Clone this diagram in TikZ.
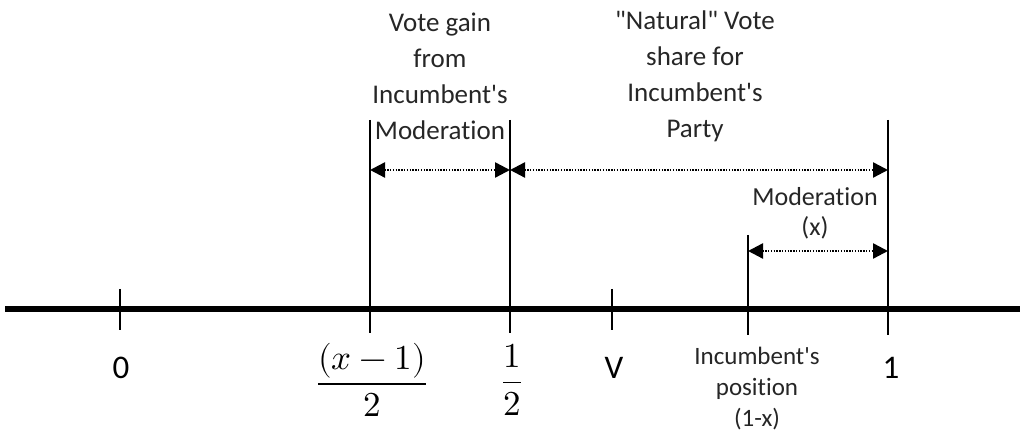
\documentclass[tikz,border=0pt]{standalone}
\usepackage{amsmath}
\usepackage{unicode-math}
\setmainfont{Carlito}[Ligatures=NoCommon]
\setmathfont{Latin Modern Math}
\usetikzlibrary{arrows.meta, positioning}
\tikzset{
  axis/.style={draw=black, line width=5.5pt},
  mark line/.style={draw=black, line width=1.8pt},
  span/.style={{Triangle[length=15pt,width=15pt]}-{Triangle[length=15pt,width=15pt]},
               draw=black, line width=2.4pt, dash pattern=on 1.4pt off 1.4pt},
  num/.style={font=\fontsize{33}{36}\selectfont, inner sep=0pt},
  note/.style={align=center, inner sep=0pt, text=black!85},
}

\begin{document}
\begin{tikzpicture}[
  x=1pt, y=1pt,
  topnote/.style={note, font=\fontsize{27}{36}\selectfont},
  midnote/.style={note, font=\fontsize{26}{30}\selectfont},
  lownote/.style={note, font=\fontsize{25}{31}\selectfont},
  frac/.style={font=\fontsize{35}{40}\selectfont, inner sep=0pt},
]
  \useasboundingbox (0,0) rectangle (1020,446);

  % number line
  \coordinate (axL) at (5,137);
  \coordinate (axR) at (1020,137);
  \draw[axis] (axL) -- (axR);

  % ticks and markers
  \coordinate (zeroT) at (120,157); \coordinate (zeroB) at (120,116);
  \coordinate (lowT)  at (370,326); \coordinate (lowB)  at (370,113);
  \coordinate (halfT) at (510,326); \coordinate (halfB) at (510,113);
  \coordinate (vT)    at (612,157); \coordinate (vB)    at (612,116);
  \coordinate (incT)  at (748,211); \coordinate (incB)  at (748,111);
  \coordinate (oneT)  at (888,326); \coordinate (oneB)  at (888,111);
  \draw[mark line] (zeroT) -- (zeroB);
  \draw[mark line] (lowT) -- (lowB);
  \draw[mark line] (halfT) -- (halfB);
  \draw[mark line] (vT) -- (vB);
  \draw[mark line] (incT) -- (incB);
  \draw[mark line] (oneT) -- (oneB);

  % spans
  \coordinate (gainL) at (370,276); \coordinate (gainR) at (510,276);
  \coordinate (natR)  at (888,276);
  \coordinate (modL)  at (748,195); \coordinate (modR)  at (888,195);
  \draw[span] (gainL) -- (gainR);
  \draw[span] (gainR) -- (natR);
  \draw[span] (modL) -- (modR);

  % labels on the line
  \node[num] (lzero) at (121,78) {0};
  \node[frac] (llow) at (372,66) {$\dfrac{(x-1)}{2}$};
  \node[frac] (lhalf) at (512,66) {$\dfrac{1}{2}$};
  \node[num] (lv)    at (614,78) {V};
  \node[num] (lone)  at (891,78) {1};
  \node[lownote] (linc) at (757,57) {Incumbent\textquotesingle s\\position\\(1-x)};

  % explanations
  \node[topnote] (gain) at (440,370) {Vote gain\\from\\Incumbent\textquotesingle s\\Moderation};
  \node[topnote] (nat)  at (695,370) {\textquotedbl Natural\textquotedbl{} Vote\\share for\\Incumbent\textquotesingle s\\Party};
  \node[midnote] (mod)  at (815,233) {Moderation\\(x)};
\end{tikzpicture}
\end{document}
